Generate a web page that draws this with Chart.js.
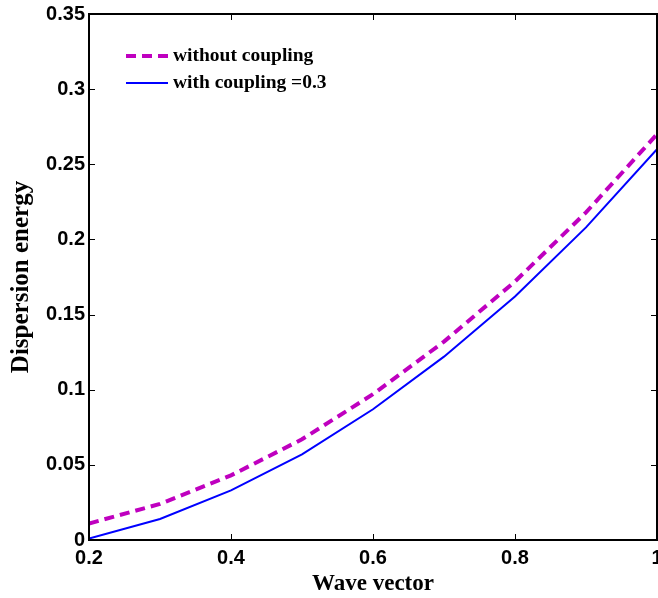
<!DOCTYPE html>
<html>
<head>
<meta charset="utf-8">
<script src="https://cdn.jsdelivr.net/npm/chart.js@4.4.1/dist/chart.umd.min.js"></script>
<style>
  html, body { margin: 0; padding: 0; background: #fff; }
  #wrap { width: 658px; height: 598px; position: relative; }
</style>
</head>
<body>
<div id="wrap"><canvas id="chart" width="658" height="598"></canvas></div>
<script>
// ── DADOS ──────────────────────────────────────
const waveVector = [0.2, 0.3, 0.4, 0.5, 0.6, 0.7, 0.8, 0.9, 1.0];
const semAcopl   = [0.011, 0.024, 0.043, 0.067, 0.097, 0.132, 0.172, 0.218, 0.270];
const comAcopl   = [0.001, 0.014, 0.033, 0.057, 0.087, 0.122, 0.162, 0.208, 0.260];
const labels     = ['without coupling', 'with coupling =0.3'];

const MAG  = '#bf00bf';
const BLUE = '#0000ff';

// ── PLUGIN: caixa + ticks para dentro + legenda ──
const boxPlugin = {
  id: 'boxTicks',
  afterDraw(chart) {
    const { ctx, chartArea: a, scales: { x, y } } = chart;
    ctx.save();
    ctx.strokeStyle = '#000';
    ctx.lineWidth = 1;
    const tl = 6;
    ctx.beginPath();
    x.ticks.forEach(t => {
      const px = Math.round(x.getPixelForValue(t.value)) + 0.5;
      ctx.moveTo(px, a.bottom); ctx.lineTo(px, a.bottom - tl);
      ctx.moveTo(px, a.top);    ctx.lineTo(px, a.top + tl);
    });
    y.ticks.forEach(t => {
      const py = Math.round(y.getPixelForValue(t.value)) + 0.5;
      ctx.moveTo(a.left, py);  ctx.lineTo(a.left + tl, py);
      ctx.moveTo(a.right, py); ctx.lineTo(a.right - tl, py);
    });
    ctx.stroke();
    ctx.lineWidth = 2;
    ctx.strokeRect(a.left, a.top, a.right - a.left, a.bottom - a.top);

    // legenda
    ctx.font = 'bold 19.5px "Liberation Serif", "Times New Roman", serif';
    ctx.textBaseline = 'middle';
    ctx.fillStyle = '#000';
    chart.data.datasets.forEach((ds, i) => {
      const ly = 56 + i * 27;
      ctx.beginPath();
      ctx.strokeStyle = ds.borderColor;
      ctx.lineWidth = ds.borderWidth;
      ctx.setLineDash(ds.borderDash || []);
      ctx.moveTo(126, ly); ctx.lineTo(168, ly);
      ctx.stroke();
      ctx.setLineDash([]);
      ctx.fillText(ds.label, 173, ly);
    });
    ctx.restore();
  }
};

const tickFont   = { family: '"Liberation Sans", Arial, sans-serif', size: 20, weight: 'bold' };
const xTitleFont = { family: '"Liberation Serif", "Times New Roman", serif', size: 23, weight: 'bold' };
const yTitleFont = { family: '"Liberation Serif", "Times New Roman", serif', size: 25, weight: 'bold' };

new Chart(document.getElementById('chart'), {
  type: 'line',
  data: {
    datasets: [
      {
        label: labels[0],
        data: waveVector.map((q, i) => ({ x: q, y: semAcopl[i] })),
        borderColor: MAG, borderWidth: 4, borderDash: [10, 6],
        pointRadius: 0, fill: false, tension: 0
      },
      {
        label: labels[1],
        data: waveVector.map((q, i) => ({ x: q, y: comAcopl[i] })),
        borderColor: BLUE, borderWidth: 2,
        pointRadius: 0, fill: false, tension: 0
      }
    ]
  },
  options: {
    responsive: false,
    animation: false,
    devicePixelRatio: 1,
    layout: { padding: { top: 14, right: 1, left: 0, bottom: 0 } },
    plugins: { legend: { display: false }, tooltip: { enabled: false } },
    scales: {
      x: {
        type: 'linear', min: 0.2, max: 1,
        grid: { display: false },
        border: { display: false },
        ticks: { stepSize: 0.2, color: '#000', font: tickFont, padding: -2,
                 callback: v => +v.toFixed(1) + '' , maxRotation: 0 },
        title: { display: true, text: 'Wave vector', color: '#000', font: xTitleFont, padding: { top: 0, bottom: 0 } },
        afterFit: s => { s.height = 58; s.paddingLeft = 0; s.paddingRight = 0; }
      },
      y: {
        type: 'linear', min: 0, max: 0.35,
        grid: { display: false, drawTicks: false },
        border: { display: false },
        ticks: { stepSize: 0.05, color: '#000', font: tickFont, padding: 4,
                 callback: v => +v.toFixed(2) + '' },
        title: { display: true, text: 'Dispersion energy', color: '#000', font: yTitleFont, padding: { top: 7, bottom: 0 } },
        afterFit: s => { s.width = 89; s.paddingTop = 0; s.paddingBottom = 0; }
      }
    }
  },
  plugins: [boxPlugin]
});
</script>
</body>
</html>
